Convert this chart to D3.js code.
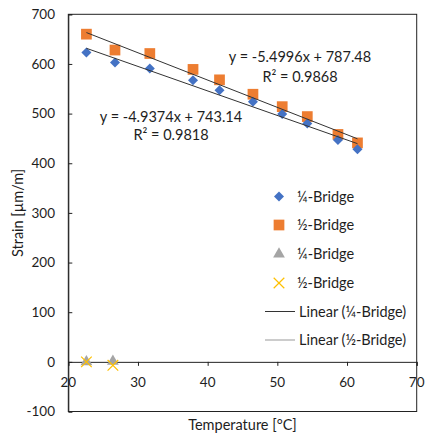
<!DOCTYPE html>
<html><head><meta charset="utf-8">
<script src="https://cdn.jsdelivr.net/npm/d3@7"></script>
<style>body{margin:0;background:#fff}svg{display:block;font-family:Lato,"Open Sans",sans-serif}</style>
</head><body><svg id="c" width="425" height="434"></svg>
<script>
const temps = [22.6, 26.7, 31.7, 37.9, 41.7, 46.5, 50.7, 54.3, 58.7, 61.5];
const quarterBridge = [623, 603, 591, 567, 547, 524, 499, 480, 447, 428];
const halfBridge = [660, 628, 621, 589, 568, 539, 514, 494, 458, 441];
const temps2 = [22.6, 26.4];
const quarterBridge2 = [0, 1];
const halfBridge2 = [0, -7];
const fitQuarter = {slope: -4.9374, intercept: 743.14, r2: 0.9818};
const fitHalf = {slope: -5.4996, intercept: 787.48, r2: 0.9868};
const xTicks = [20, 30, 40, 50, 60, 70];
const yTicks = [-100, 0, 100, 200, 300, 400, 500, 600, 700];
const legendLabels = ["¼-Bridge", "½-Bridge", "¼-Bridge", "½-Bridge", "Linear (¼-Bridge)", "Linear (½-Bridge)"];

const svg = d3.select("#c");
const L = 68.3, R = 416.7, T = 14.3, B = 411.5;
const x = d3.scaleLinear().domain([20, 70]).range([L, R]);
const y = d3.scaleLinear().domain([-100, 700]).range([B, T]);
const txt = "#1e1e1e";

svg.append("rect").attr("x", L).attr("y", T).attr("width", R - L).attr("height", B - T)
  .attr("fill", "none").attr("stroke", "#222").attr("stroke-width", 1);

const ya = svg.append("g").attr("transform", `translate(${L},0)`)
  .call(d3.axisRight(y).tickValues(yTicks).tickSize(4).tickFormat(""));
ya.select(".domain").attr("stroke", "#222");
ya.selectAll("line").attr("stroke", "#222");
svg.append("g").selectAll("text").data(yTicks).join("text")
  .attr("x", 55).attr("y", d => y(d)).attr("dy", "0.35em").attr("text-anchor", "end")
  .attr("font-size", 13.5).attr("fill", txt).text(d => d);

const xa = svg.append("g").attr("transform", `translate(0,${y(0)})`)
  .call(d3.axisBottom(x).tickValues(xTicks).tickSize(4).tickFormat(""));
xa.select(".domain").attr("stroke", "#222");
xa.selectAll("line").attr("stroke", "#222");
svg.append("g").selectAll("text").data(xTicks).join("text")
  .attr("x", d => x(d)).attr("y", y(0) + 20).attr("dy", "0.35em").attr("text-anchor", "middle")
  .attr("font-size", 13.5).attr("fill", txt).text(d => d);

svg.append("text").attr("x", (L + R) / 2).attr("y", 425).attr("dy", "0.35em").attr("text-anchor", "middle")
  .attr("font-size", 14.5).attr("fill", txt).text("Temperature [°C]");
svg.append("text").attr("transform", `translate(18,${(T + B) / 2}) rotate(-90)`).attr("dy", "0.35em")
  .attr("text-anchor", "middle").attr("font-size", 14.5).attr("fill", txt).text("Strain [µm/m]");

const diamond = d3.symbol().type(d3.symbolDiamond2).size(64);
const square = d3.symbol().type(d3.symbolSquare).size(115);
const tri = d3.symbol().type(d3.symbolTriangle).size(60);
const cross = d3.symbol().type(d3.symbolX).size(75);

const pts = (xs, ys) => xs.map((t, i) => [t, ys[i]]);

svg.append("g").selectAll("path").data(pts(temps, halfBridge)).join("path")
  .attr("transform", d => `translate(${x(d[0])},${y(d[1])})`).attr("d", square).attr("fill", "#ED7D31");
svg.append("g").selectAll("path").data(pts(temps, quarterBridge)).join("path")
  .attr("transform", d => `translate(${x(d[0])},${y(d[1])})`).attr("d", diamond).attr("fill", "#4472C4");
svg.append("g").selectAll("path").data(pts(temps2, quarterBridge2)).join("path")
  .attr("transform", d => `translate(${x(d[0])},${y(d[1])})`).attr("d", tri).attr("fill", "#A5A5A5");
svg.append("g").selectAll("path").data(pts(temps2, halfBridge2)).join("path")
  .attr("transform", d => `translate(${x(d[0])},${y(d[1])})`).attr("d", cross)
  .attr("fill", "none").attr("stroke", "#FFC000").attr("stroke-width", 1.2);

const ext = d3.extent(temps);
[fitQuarter, fitHalf].forEach(f => {
  svg.append("line").attr("x1", x(ext[0])).attr("y1", y(f.slope * ext[0] + f.intercept))
    .attr("x2", x(ext[1])).attr("y2", y(f.slope * ext[1] + f.intercept))
    .attr("stroke", "#333").attr("stroke-width", 1);
});

const eq = (f) => `y = ${f.slope}x + ${f.intercept}`;
const eqs = [[fitHalf, 300, 57, 77], [fitQuarter, 171, 117, 135]];
eqs.forEach(([f, cx, y1, y2]) => {
  svg.append("text").attr("x", cx).attr("y", y1).attr("dy", "0.35em").attr("text-anchor", "middle")
    .attr("font-size", 14.5).attr("fill", txt).text(eq(f));
  svg.append("text").attr("x", cx).attr("y", y2).attr("dy", "0.35em").attr("text-anchor", "middle")
    .attr("font-size", 14.5).attr("fill", txt).text(`R² = ${f.r2.toFixed(4)}`);
});

const legY = [196.5, 225, 254, 283, 311.5, 340];
const lg = svg.append("g");
const symFns = [[diamond, "#4472C4", null], [square, "#ED7D31", null], [tri, "#A5A5A5", null], [cross, "none", "#FFC000"]];
legendLabels.forEach((lab, i) => {
  const yy = legY[i];
  if (i < 4) {
    const [s, f, st] = symFns[i];
    lg.append("path").attr("transform", `translate(279,${yy})`).attr("d", s)
      .attr("fill", f).attr("stroke", st || "none").attr("stroke-width", 1.2);
    lg.append("text").attr("x", 297).attr("y", yy).attr("dy", "0.35em").attr("font-size", 14.5)
      .attr("fill", txt).text(lab);
  } else {
    lg.append("line").attr("x1", 265).attr("x2", 295).attr("y1", yy).attr("y2", yy)
      .attr("stroke", i === 4 ? "#333" : "#999").attr("stroke-width", 1);
    lg.append("text").attr("x", 299).attr("y", yy).attr("dy", "0.35em").attr("font-size", 14.5)
      .attr("fill", txt).text(lab);
  }
});
</script></body></html>
